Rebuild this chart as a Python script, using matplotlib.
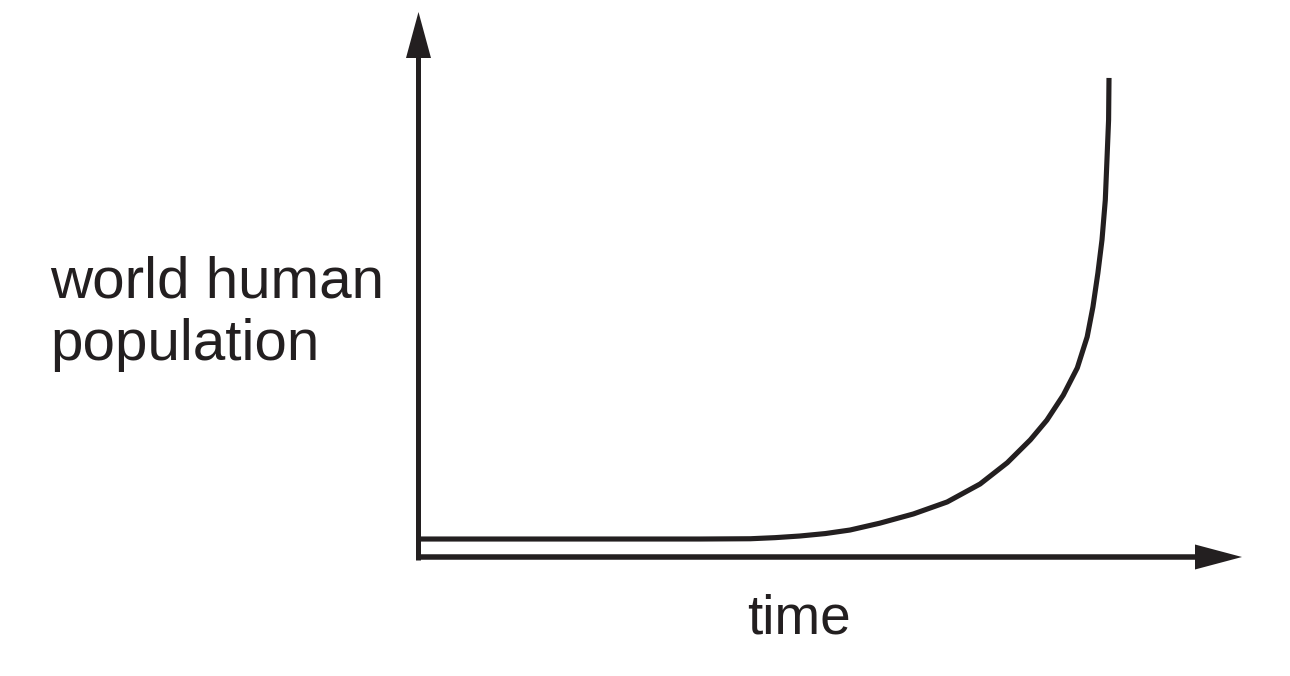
import matplotlib
matplotlib.use("Agg")
import matplotlib.pyplot as plt

# values (time and population in arbitrary units, 0..100)
time = [0, 34.2, 40.3, 43.3, 46.3, 49.4, 52.4, 56.0, 60.1, 64.2, 68.2, 71.5,
        74.3, 76.3, 78.3, 80.0, 81.2, 81.9, 82.5, 83.0, 83.4, 83.6, 83.8,
        83.85]
population = [3.3, 3.3, 3.35, 3.55, 3.85, 4.3, 4.95, 6.2, 7.9, 10.1, 13.4,
              17.3, 21.5, 25.1, 29.7, 34.7, 40.4, 45.9, 52.1, 58.2, 65.5, 72.8,
              80.2, 87.9]
x_label = "time"
y_label = ["world human", "population"]

INK = "#231f20"
W, H = 1290, 676

# pixel layout of the axes corner and scale
x0_px, y0_px = 418.5, 557
sx, sy = 8.235, 5.45  # pixels per unit

fig = plt.figure(figsize=(W / 100, H / 100), dpi=100)
ax = fig.add_axes([0, 0, 1, 1])
ax.set_xlim(-x0_px / sx, (W - x0_px) / sx)
ax.set_ylim(-(H - y0_px) / sy, y0_px / sy)
ax.axis("off")

# axes with arrow heads
ax.arrow(0, -3.5 / sy, 0, 100 + 3.5 / sy, width=5 / sx, head_width=25 / sx,
         head_length=46 / sy, length_includes_head=True, color=INK, lw=0)
ax.arrow(-2.5 / sx, 0, 100 + 2.5 / sx, 0, width=5.5 / sy, head_width=25 / sy,
         head_length=47 / sx, length_includes_head=True, color=INK, lw=0)

# growth curve
ax.plot(time, population, color=INK, lw=3.7, solid_capstyle="butt",
        solid_joinstyle="round")

font = dict(family="Liberation Sans", color=INK)
fig.text(50 / W, 1 - 297 / H, y_label[0], ha="left", va="baseline",
         fontsize=42, **font)
fig.text(50 / W, 1 - 360 / H, y_label[1], ha="left", va="baseline",
         fontsize=42, **font)
fig.text(798.5 / W, 1 - 634 / H, x_label, ha="center", va="baseline",
         fontsize=39.5, **font)

fig.savefig("out.png", dpi=100)
